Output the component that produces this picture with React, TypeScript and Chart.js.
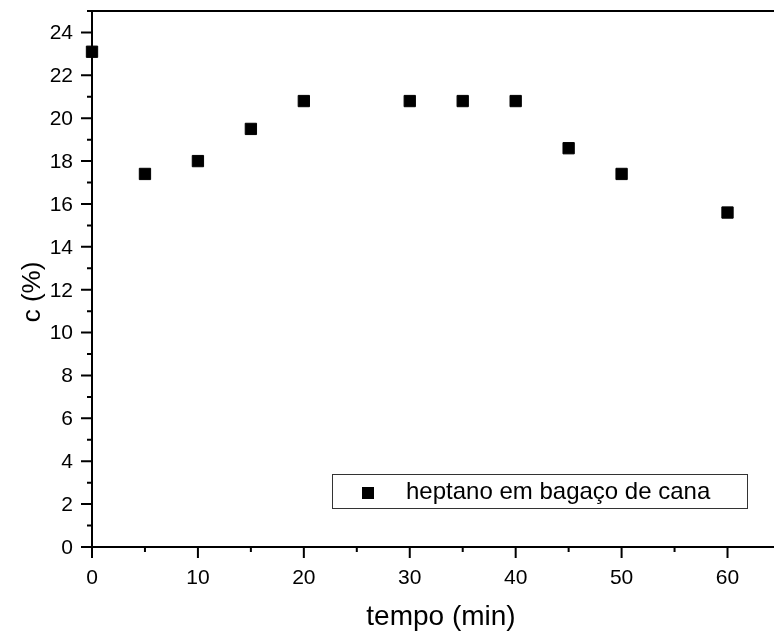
import React, { useEffect, useRef } from "react";
import { Chart, registerables } from "chart.js";

Chart.register(...registerables);

const timeMin = [0, 5, 10, 15, 20, 30, 35, 40, 45, 50, 60];
const concentration = [23.1, 17.4, 18.0, 19.5, 20.8, 20.8, 20.8, 20.8, 18.6, 17.4, 15.6];
const xTicks = [0, 5, 10, 15, 20, 25, 30, 35, 40, 45, 50, 55, 60];
const xLabelTicks = [0, 10, 20, 30, 40, 50, 60];
const yTicks = Array.from({ length: 26 }, (_, i) => i);
const yLabelTicks = [0, 2, 4, 6, 8, 10, 12, 14, 16, 18, 20, 22, 24];
const seriesLabel = "heptano em bagaço de cana";
const xTitle = "tempo (min)";
const yTitle = "c (%)";

const FONT = "'Liberation Sans', Arial, Helvetica, sans-serif";

const axesPlugin = {
  id: "originAxes",
  afterDraw(chart: any) {
    const ctx = chart.ctx;
    const { left, right, top, bottom } = chart.chartArea;
    const xs = chart.scales.x;
    const ys = chart.scales.y;
    ctx.save();
    ctx.strokeStyle = "#000";
    ctx.fillStyle = "#000";
    ctx.lineWidth = 2;
    ctx.beginPath();
    ctx.moveTo(left, top);
    ctx.lineTo(right + 2, top);
    ctx.moveTo(left, top - 1);
    ctx.lineTo(left, bottom + 1);
    ctx.moveTo(left - 1, bottom);
    ctx.lineTo(right + 2, bottom);
    ctx.stroke();

    ctx.beginPath();
    xTicks.forEach((v) => {
      const px = xs.getPixelForValue(v);
      const len = xLabelTicks.includes(v) ? 11 : 5;
      ctx.moveTo(px, bottom);
      ctx.lineTo(px, bottom + len);
    });
    yTicks.forEach((v) => {
      const py = ys.getPixelForValue(v);
      const len = yLabelTicks.includes(v) ? 11 : 5;
      ctx.moveTo(left, py);
      ctx.lineTo(left - len, py);
    });
    ctx.stroke();

    ctx.font = `21px ${FONT}`;
    ctx.textAlign = "center";
    ctx.textBaseline = "top";
    xLabelTicks.forEach((v) => {
      ctx.fillText(String(v), xs.getPixelForValue(v), bottom + 21);
    });
    ctx.textAlign = "right";
    ctx.textBaseline = "middle";
    yLabelTicks.forEach((v) => {
      ctx.fillText(String(v), left - 19, ys.getPixelForValue(v) + 1);
    });

    ctx.font = `28px ${FONT}`;
    ctx.textAlign = "center";
    ctx.textBaseline = "alphabetic";
    ctx.fillText(xTitle, 441, 625);
    ctx.font = `26px ${FONT}`;
    ctx.save();
    ctx.translate(40, 292);
    ctx.rotate(-Math.PI / 2);
    ctx.fillText(yTitle, 0, 0);
    ctx.restore();

    ctx.lineWidth = 1;
    ctx.strokeStyle = "#333";
    ctx.strokeRect(332.5, 474.5, 415, 34);
    ctx.fillStyle = "#000";
    ctx.fillRect(362, 487, 12, 12);
    ctx.font = `24px ${FONT}`;
    ctx.textAlign = "left";
    ctx.textBaseline = "middle";
    ctx.fillText(seriesLabel, 406, 492);
    ctx.restore();
  },
};

export default function App() {
  const ref = useRef<HTMLCanvasElement | null>(null);
  useEffect(() => {
    if (!ref.current) return;
    const chart = new Chart(ref.current, {
      type: "scatter",
      data: {
        datasets: [
          {
            label: seriesLabel,
            data: timeMin.map((t, i) => ({ x: t, y: concentration[i] })),
            pointStyle: "rect",
            pointRadius: 8,
            pointBorderWidth: 1,
            backgroundColor: "#000",
            borderColor: "#000",
            showLine: false,
            clip: false,
          },
        ],
      },
      options: {
        responsive: false,
        animation: false,
        maintainAspectRatio: false,
        layout: { padding: { left: 92, right: 0, top: 11, bottom: 88 } },
        plugins: { legend: { display: false }, tooltip: { enabled: false } },
        scales: {
          x: { type: "linear", min: 0, max: 64.2, display: false },
          y: { type: "linear", min: 0, max: 25, display: false },
        },
      },
      plugins: [axesPlugin],
    });
    return () => chart.destroy();
  }, []);
  return (
    <div style={{ position: "fixed", left: 0, top: 0, width: 781, height: 635, overflow: "hidden", background: "#fff" }}>
      <canvas ref={ref} width={781} height={635} style={{ display: "block" }} />
    </div>
  );
}
